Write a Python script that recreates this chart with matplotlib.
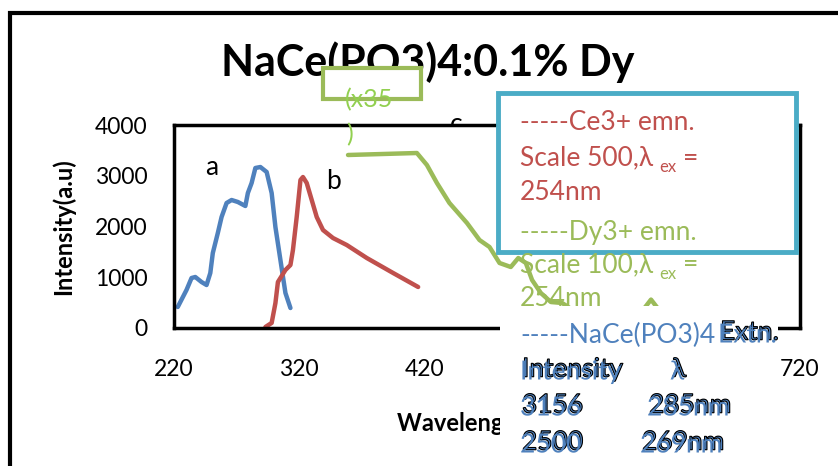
import matplotlib
matplotlib.use("Agg")
from matplotlib import pyplot as plt
from matplotlib.patches import Rectangle
from matplotlib.transforms import Bbox
import matplotlib.patheffects as pe

W, H = 838, 466

# excitation spectrum (a), Ce3+ emission (b), Dy3+ emission (c)
wl_a = [223, 230, 234, 237, 242, 246, 249, 251, 255, 258, 262, 266, 271, 277,
        279, 282, 285, 289, 294, 298, 301, 305, 309, 313]
int_a = [414, 750, 985, 1005, 906, 847, 1084, 1478, 1872, 2187, 2463, 2522,
         2483, 2404, 2660, 2857, 3153, 3172, 3074, 2660, 1990, 1340, 690, 394]

wl_b = [293, 298, 301, 303, 309, 313, 315, 318, 321, 323, 326, 330, 334, 339,
        347, 358, 374, 395, 415]
int_b = [20, 100, 490, 906, 1143, 1241, 1537, 2187, 2916, 2975, 2857, 2522,
         2187, 1931, 1773, 1635, 1379, 1084, 808]

wl_c = [359, 414, 422, 430, 440, 454, 464, 472, 480, 489, 495, 501, 506, 513,
        521, 530, 540, 560, 585, 596, 601, 606, 615, 640]
int_c = [3409, 3448, 3212, 2857, 2463, 2069, 1734, 1596, 1281, 1202, 1379,
         1281, 946, 690, 512, 493, 330, 280, 300, 400, 560, 400, 300, 250]

x_ticks = [220, 320, 420, 520, 620, 720]
# 520 and 620 are hidden behind the text block in the original
x_ticklabels = ["220", "320", "420", "", "", "720"]
y_ticks = [0, 1000, 2000, 3000, 4000]

c_blue = "#4F81BD"
c_red = "#C0504D"
c_green = "#9BBB59"
c_lgreen = "#92D050"

plt.rcParams['font.family'] = ['Lato', 'DejaVu Sans']


def fx(x):
    return x / W


def fy(y):
    return 1 - y / H


fig = plt.figure(figsize=(W / 100, H / 100), dpi=100)

# outer chart frame
fig.patches.append(Rectangle((fx(10), fy(470)), 1.0, fy(13) - fy(470),
                             transform=fig.transFigure, fill=False,
                             edgecolor="black", linewidth=3, zorder=1))

ax = fig.add_axes([fx(174), fy(328), fx(800) - fx(174), fy(125) - fy(328)])
ax.plot(wl_a, int_a, color=c_blue, lw=3.2, solid_capstyle="round")
ax.plot(wl_b, int_b, color=c_red, lw=3.2, solid_capstyle="round")
ax.plot(wl_c, int_c, color=c_green, lw=3.2, solid_capstyle="round")
ax.set_xlim(220, 720)
ax.set_ylim(0, 4000)
ax.set_xticks(x_ticks)
ax.set_xticklabels(x_ticklabels)
ax.set_yticks(y_ticks)
ax.tick_params(length=0, labelsize=16.5, pad=22)
ax.tick_params(axis="y", pad=19)
for s in ax.spines.values():
    s.set_linewidth(2.5)
ax.set_ylabel("Intensity(a.u)", fontsize=17, fontweight="bold", labelpad=14)
ax.set_xlabel("Wavelength (nm)", fontsize=17, fontweight="bold", labelpad=23)

ax.text(250, 3172, "a", fontsize=19, ha="center", va="center")
ax.text(347, 2877, "b", fontsize=19, ha="center", va="center")

# title
fig.text(fx(428), fy(62), "NaCe(PO3)4:0.1% Dy", fontsize=31,
         fontweight="bold", ha="center", va="center", zorder=3)

# (x35) box
fig.patches.append(Rectangle((fx(323), fy(99)), fx(421) - fx(323),
                             fy(68) - fy(99), transform=fig.transFigure,
                             facecolor="white", edgecolor=c_green,
                             linewidth=3, zorder=4))
fig.text(fx(345), fy(100), "(x35", fontsize=18, color=c_lgreen,
         ha="left", va="center", zorder=5)
fig.text(fx(346), fy(135), ")", fontsize=18, color=c_lgreen,
         ha="left", va="center", zorder=5)

tc = fig.text(fx(456), fy(124), "c", fontsize=19, ha="center", va="center",
              zorder=0.5)
tc.set_clip_box(Bbox([[0, H - 124], [W, H]]))
tc.set_clip_on(True)

# legend box
fig.patches.append(Rectangle((fx(498), fy(252)), fx(796) - fx(498),
                             fy(93) - fy(252), transform=fig.transFigure,
                             facecolor="white", edgecolor="#4BACC6",
                             linewidth=3.5, zorder=4))

fs = 19
fig.text(fx(520), fy(123), "-----Ce3+ emn.", fontsize=fs, color=c_red,
         va="center", zorder=5)
fig.text(fx(520), fy(158), "Scale 500,λ", fontsize=fs, color=c_red,
         va="center", zorder=5)
fig.text(fx(659), fy(167), "ex", fontsize=12, color=c_red,
         va="center", zorder=5)
fig.text(fx(683), fy(158), "=", fontsize=fs, color=c_red,
         va="center", zorder=5)
fig.text(fx(520), fy(193), "254nm", fontsize=fs, color=c_red,
         va="center", zorder=5)
fig.text(fx(520), fy(232), "-----Dy3+ emn.", fontsize=fs, color=c_green,
         va="center", zorder=5)
fig.text(fx(520), fy(265), "Scale 100,λ", fontsize=fs, color=c_green,
         va="center", zorder=5)
fig.text(fx(659), fy(274), "ex", fontsize=12, color=c_green,
         va="center", zorder=5)
fig.text(fx(683), fy(265), "=", fontsize=fs, color=c_green,
         va="center", zorder=5)
fig.text(fx(520), fy(298), "254nm", fontsize=fs, color=c_green,
         va="center", zorder=5)

# white block covering lower right
fig.patches.append(Rectangle((fx(500), 0), fx(778) - fx(500), fy(306),
                             transform=fig.transFigure, facecolor="white",
                             edgecolor="none", zorder=2))

shadow = [pe.SimplePatchShadow(offset=(1.5, 2), shadow_rgbFace="black",
                               alpha=1),
          pe.Stroke(offset=(1.5, 2), linewidth=0.8, foreground="black"),
          pe.Normal()]
fig.text(fx(520), fy(335), "-----NaCe(PO3)4", fontsize=fs, color=c_blue,
         va="center", zorder=5)
blue_items = [(718, 335, "Extn."), (520, 372, "Intensity"), (670, 372, "λ"),
              (520, 408, "3156"), (647, 408, "285nm"),
              (520, 445, "2500"), (640, 445, "269nm")]
for x, y, s in blue_items:
    fig.text(fx(x), fy(y), s, fontsize=fs, color=c_blue, va="center",
             zorder=5, path_effects=shadow)

plt.savefig("out.png", dpi=100)
